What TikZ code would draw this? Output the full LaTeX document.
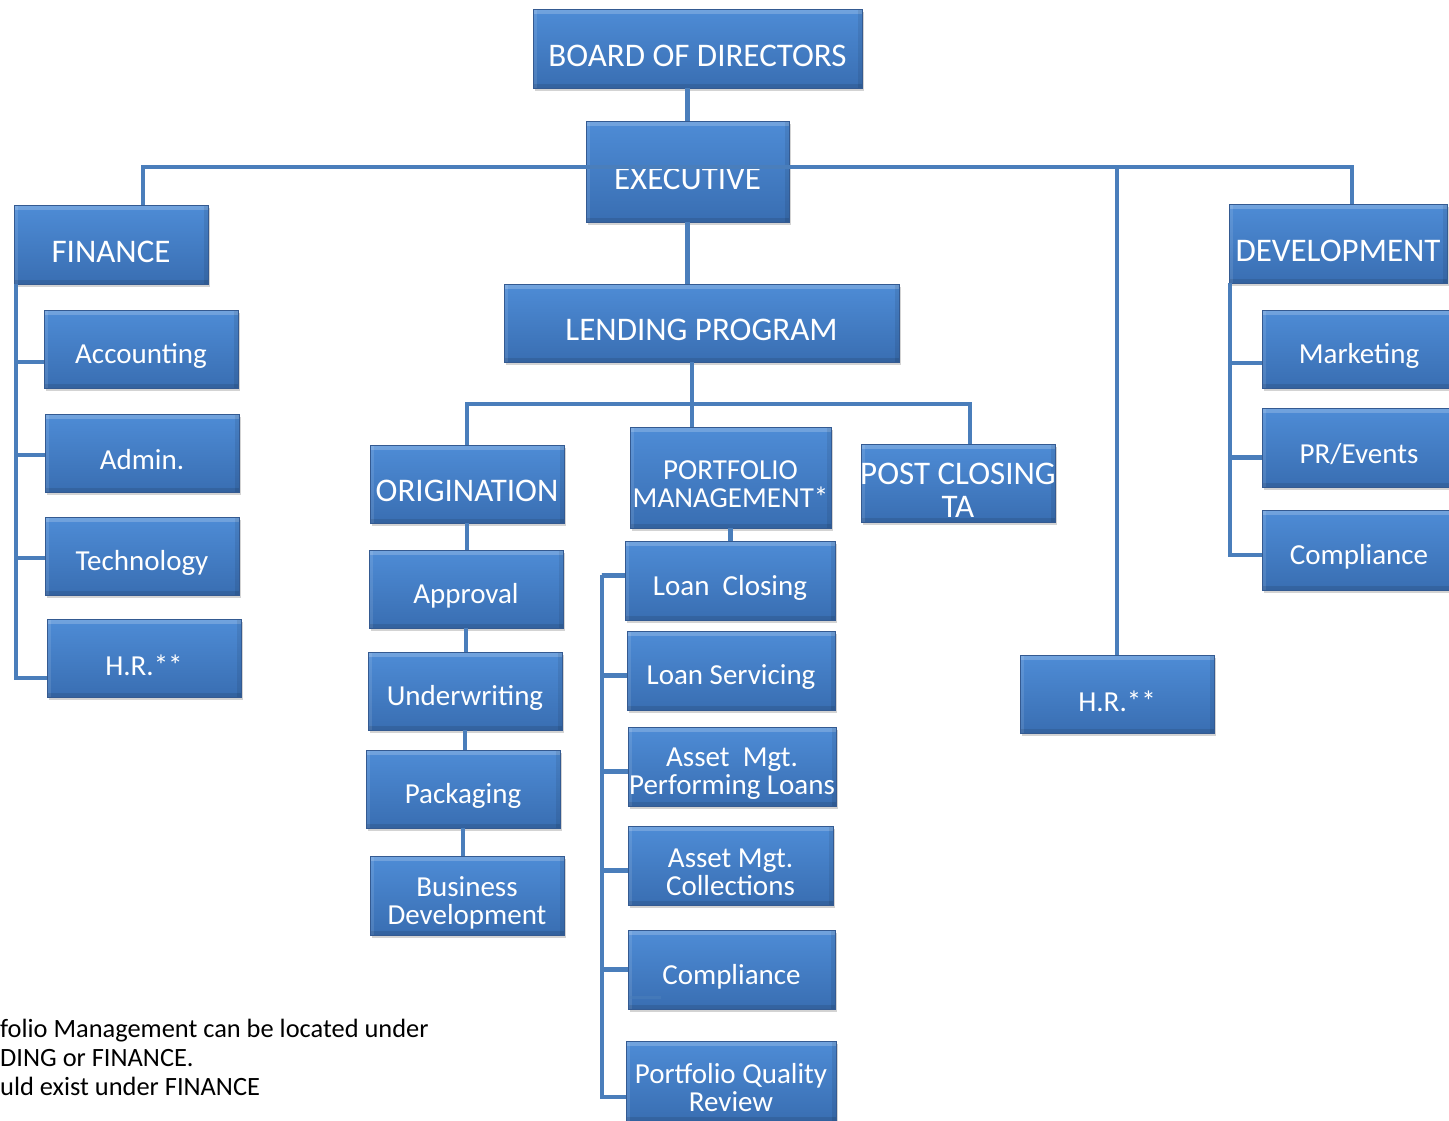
\documentclass[tikz,border=0pt]{standalone}
\usepackage{fontspec}
\setmainfont{Carlito}
\usetikzlibrary{calc,shadows}
\definecolor{boxtop}{RGB}{78,140,214}
\definecolor{boxbot}{RGB}{57,110,178}
\definecolor{boxedge}{RGB}{52,90,145}
\definecolor{linecol}{RGB}{74,126,187}

\tikzset{
	unit/.style={draw=boxedge, line width=.8pt, top color=boxtop, bottom color=boxbot,
		drop shadow={shadow xshift=2pt, shadow yshift=-3pt, opacity=.35},
		inner sep=0pt, minimum width=194pt, minimum height=78pt,
		path picture={
			\fill[white, opacity=.2] (path picture bounding box.north west) rectangle ([yshift=-5pt]path picture bounding box.north east);
			\fill[white, opacity=.1] (path picture bounding box.north west) rectangle ([xshift=4pt]path picture bounding box.south west);
			\fill[black, opacity=.1] (path picture bounding box.south west) rectangle ([yshift=4pt]path picture bounding box.south east);
			\fill[black, opacity=.08] (path picture bounding box.north east) rectangle ([xshift=-4pt]path picture bounding box.south east);
		}},
	box/.style={unit, label={[boxtxt]center:#1}},
	head/.style={unit, label={[headtxt]center:#1}},
	boxtxt/.style={text=white, align=center, yshift=-7pt, font=\fontsize{29}{28}\selectfont},
	headtxt/.style={boxtxt, font=\fontsize{33}{33}\selectfont},
	conn/.style={draw=linecol, line width=4.5pt},
}

\begin{document}
\begin{tikzpicture}[x=1pt, y=-1pt]
	\useasboundingbox (0,0) rectangle (1449,1120);
	% top of the chart
	\node[head=BOARD OF DIRECTORS, minimum width=329pt, minimum height=79pt] (board) at (697.5,48.5) {};
	\node[head=EXECUTIVE, minimum width=203pt, minimum height=101pt] (exec) at (687.5,171.5) {};
	\node[head=FINANCE, minimum height=79pt] (fin) at (111,244.5) {};
	\node[head=DEVELOPMENT, minimum width=218pt, minimum height=79pt] (dev) at (1338,243.5) {};
	\node[head=LENDING PROGRAM, minimum width=395pt] (lend) at (701.5,323) {};
	\node[box=H.R.**] (hrr) at (1117,694) {};
	% finance
	\node[box=Accounting] (acc) at (141,349) {};
	\node[box=Admin.] (adm) at (142,453) {};
	\node[box=Technology] (tech) at (142,556) {};
	\node[box=H.R.**] (hrf) at (144,658) {};
	% lending
	\node[head=ORIGINATION] (orig) at (467,484) {};
	\node[box={PORTFOLIO\\MANAGEMENT*}, minimum width=201pt, minimum height=101pt] (port) at (730.5,477.5) {};
	\node[head={POST CLOSING\\TA}] (post) at (958,483) {};
	\node[box=Approval] (appr) at (466,589) {};
	\node[box=Underwriting] (under) at (465,691) {};
	\node[box=Packaging] (pack) at (463,789) {};
	\node[box={Business\\Development}, minimum height=79pt] (bus) at (467,895.5) {};
	\node[box=Loan~ Closing, minimum width=210pt, minimum height=79pt] (close) at (730,580.5) {};
	\node[box=Loan Servicing, minimum width=208pt, minimum height=79pt] (serv) at (731,670.5) {};
	\node[box={Asset~ Mgt.\\Performing Loans}, minimum width=208pt, minimum height=79pt] (perf) at (732,766.5) {};
	\node[box={Asset Mgt.\\Collections}, minimum width=205pt, minimum height=79pt] (coll) at (730.5,865.5) {};
	\node[box=Compliance, minimum width=207pt, minimum height=79pt] (compm) at (731.5,969.5) {};
	\node[box={Portfolio Quality\\Review}, minimum width=210pt, minimum height=80pt] (pqr) at (731,1081) {};
	% development
	\node[box=Marketing] (mark) at (1359,349) {};
	\node[box=PR/Events, minimum height=79pt] (pr) at (1359,447.5) {};
	\node[box=Compliance, minimum height=80pt] (compr) at (1359,550) {};

	% connectors
	\draw[conn] (exec.north) -- (exec.north |- board.south);
	\draw[conn] (exec.south) -- (exec.south |- lend.north);
	\coordinate (busL) at (143,167);
	\coordinate (busR) at (1352,167);
	\draw[conn] (busL |- fin.north) -- (busL) -- (busR) -- (busR |- dev.north);
	\draw[conn] (hrr.north) -- (hrr.north |- busL);
	\coordinate (lbus) at (692,404);
	\draw[conn] (lend.south -| lbus) -- (lbus |- port.north);
	\draw[conn] (orig.north) |- (lbus) -| ($(post.north)+(12,0)$);
	\foreach \a/\b in {orig/appr, appr/under, under/pack, pack/bus}
		\draw[conn] (\a.south) -- (\a.south |- \b.north);
	\draw[conn] (port.south) -- (port.south |- close.north);
	\coordinate (ftop) at (16,284);
	\foreach \n/\dy in {acc/13, adm/2, tech/2, hrf/20}
		\draw[conn] ($(\n.west)+(0,\dy)$) -| (ftop);
	\coordinate (ptop) at (602,575);
	\foreach \n/\dy in {close/-5, serv/5, perf/5, coll/5, compm/0, pqr/16}
		\draw[conn] ($(\n.west)+(0,\dy)$) -| (ptop);
	\draw[conn, line width=3pt, opacity=.6] ($(compm.west)+(1,27.5)$) -- ++(32,0);
	\coordinate (dtop) at (1230,283);
	\foreach \n/\dy in {mark/14, pr/10, compr/5}
		\draw[conn] ($(\n.west)+(0,\dy)$) -| (dtop);

	% footnote
	\node[anchor=west, align=left, inner sep=0pt, font=\fontsize{26.4}{29}\selectfont] (note) at (0,1057)
		{folio Management can be located under\\DING or FINANCE.\\uld exist under FINANCE};
\end{tikzpicture}
\end{document}
